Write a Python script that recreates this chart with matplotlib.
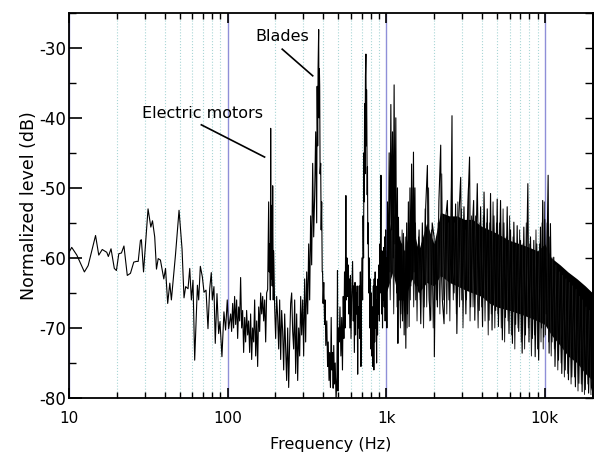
import matplotlib
matplotlib.use("Agg")
import matplotlib.pyplot as plt
import numpy as np
from matplotlib.ticker import FixedLocator, NullFormatter, NullLocator

plt.rcParams["axes.unicode_minus"] = False

# ---- data ----
# 10 Hz .. 105 Hz, single readable trace
f_low = [10, 10.4, 11.2, 12.5, 13.2, 14.7, 15.4, 16.2, 17.3, 17.7, 18.4, 19.3, 19.9,
         20.6, 21.4, 22.2, 23.3, 24.4, 25.6, 26.6, 27.3, 28.2, 28.6, 29.5, 31.5, 32.8,
         33.6, 34.7, 35.6, 36.5, 37.7, 39.6, 40.6, 41.9, 43.2, 44.2, 46.9, 49.4, 51.6,
         53.1, 54.4, 56.3, 57.7, 59.1, 60.5, 62.0, 64.5, 65.7, 67.3, 69.3, 71.0, 73.1,
         75.2, 77.1, 78.9, 80.1, 82.0, 83.6, 85.7, 87.8, 89.5, 92.1, 94.8, 97.1, 99.5,
         101.5, 103.0]
db_low = [-59.2, -58.5, -59.6, -62.0, -61.1, -56.8, -59.6, -58.8, -59.2, -59.8, -58.7, -61.5, -61.8,
          -59.4, -59.3, -58.3, -62.5, -62.2, -60.6, -60.5, -60.5, -57.5, -57.4, -62.0, -53.0, -55.6,
          -54.7, -57.0, -61.6, -60.1, -60.3, -63.0, -61.5, -66.5, -63.6, -66.0, -59.6, -53.2, -58.7,
          -65.7, -64.1, -64.4, -61.5, -66.0, -63.2, -74.6, -63.9, -66.0, -61.2, -62.7, -64.9, -64.6,
          -70.1, -64.4, -62.1, -66.0, -64.1, -72.2, -65.1, -70.8, -69.1, -74.1, -67.7, -70.3, -66.0,
          -70.1, -69.1]

# 105 Hz .. 1 kHz (motor line, blade harmonics)
f_mid = [104.5, 106.0, 107.6, 109.1, 110.7, 112.4, 114.0, 115.7, 117.4, 119.1, 120.8, 122.6,
         124.4, 126.2, 128.1, 129.9, 131.8, 133.8, 135.7, 137.7, 139.7, 141.8, 143.8, 146.0,
         148.1, 150.3, 152.5, 154.7, 157.0, 159.3, 161.6, 164.0, 166.4, 168.8, 171.3, 173.8,
         176.3, 178.9, 181.5, 183.0, 184.2, 186.0, 186.9, 188.0, 189.6, 191.0, 192.4, 194.0,
         195.2, 198.0, 200.9, 203.9, 206.9, 209.9, 212.9, 216.1, 219.2, 222.4, 225.7, 229.0,
         232.3, 235.7, 239.2, 242.7, 246.2, 249.8, 253.5, 257.2, 260.9, 264.8, 268.6, 272.6,
         276.6, 280.6, 284.7, 288.9, 293.1, 297.4, 301.7, 306.1, 310.6, 315.2, 319.8, 324.5,
         329.2, 334.0, 338.9, 343.9, 348.9, 354.0, 359.2, 364.5, 367, 369.8, 372, 375.2,
         377, 379, 380.7, 383, 386.3, 389, 391.9, 395, 397, 400, 404, 409, 412, 416, 422,
         427, 431, 436, 440, 445, 450, 454, 459, 463, 467, 472, 477, 483, 489, 493, 496,
         500, 506, 511, 518, 524, 530, 536, 541, 546, 551, 557, 561, 566, 570, 575, 580,
         585, 590, 595, 600, 607, 614, 620, 625, 630, 636, 641, 645, 650, 656, 661, 666,
         671, 676, 682, 687, 693, 698, 703, 710, 715, 720, 724, 727, 731, 735, 740, 745,
         749, 752, 755, 759, 762, 766, 770, 775, 782, 788, 794, 800, 806, 812, 818, 824,
         830, 836, 840, 846, 852, 858, 864, 870, 876, 882, 888, 894, 900, 906, 912, 918,
         924, 927, 930, 936, 942, 948, 954, 960, 966, 972, 978, 985, 992, 998]
db_mid = [-68, -70.5, -66.5, -70, -65.5, -69.5, -66, -71.5, -67, -69, -62.8, -70,
          -67.5, -73.5, -68.5, -72, -67.5, -71, -69, -73.5, -68, -74.5, -70, -72,
          -66, -74, -69, -75.5, -67, -70.5, -65, -68, -65.5, -69, -66, -72,
          -65, -64.5, -52, -62, -58, -66, -41.5, -63, -52.5, -64, -49.7, -66,
          -59, -67, -71.5, -65.5, -68.5, -73, -66, -74.5, -67.5, -70.5, -76, -68,
          -73, -77.5, -70, -78.5, -72, -66.5, -65, -70.5, -73, -66, -76.5, -68,
          -77.5, -70, -74, -65.5, -71, -66, -74, -63, -72, -62, -68, -58,
          -66, -54, -61, -46.5, -57, -51, -42, -55, -35.5, -44, -32.8, -27.4,
          -40, -33, -35.4, -48, -46.5, -56, -52, -62, -62, -66.5, -63.5, -69.5, -66, -72.5, -69,
          -75.5, -72, -77.5, -73.5, -78.5, -68.5, -76, -73.5, -78.6, -72.5, -78, -75, -80.3, -77, -61.8, -79,
          -70, -72, -67, -74, -68.5, -76, -65.5, -71.5, -62, -70, -51.1, -66, -60, -65.5, -61, -68,
          -63, -70, -62.5, -71.5, -65, -60.5, -69, -64, -73.5, -63.5, -71, -65, -68, -64, -76.6, -67,
          -70, -64, -71.5, -62, -75.5, -66, -60, -66, -54, -60, -45, -52, -38, -48, -34, -30.9,
          -44, -36, -40.7, -51, -47, -58, -55, -65, -60, -70, -63, -73, -65, -74, -67, -75.5,
          -64, -76, -63, -72, -62, -70, -66, -75, -64, -71, -63, -68, -61, -69, -58, -65,
          -52, -48.2, -60, -68, -59, -70, -61, -66, -58.5, -67, -57, -69, -56, -65]

# 1 kHz .. 20 kHz, tallest spikes (alternating tops and bottoms)
f_high = [1003, 1010, 1019, 1030, 1044, 1055, 1070, 1082, 1096, 1108, 1122, 1135, 1150, 1163,
          1178, 1185, 1195, 1207, 1220, 1236, 1250, 1267, 1283, 1298, 1315, 1330, 1346, 1362,
          1380, 1395, 1412, 1429, 1446, 1464, 1486, 1500, 1518, 1537, 1555, 1574, 1612, 1652,
          1690, 1734, 1775, 1819, 1840, 1865, 1909, 1950, 2004, 2012, 2050, 2103, 2150, 2207,
          2230, 2260, 2316, 2380, 2431, 2490, 2551, 2600, 2620, 2677, 2740, 2790, 2860, 2949,
          3000, 3094, 3180, 3247, 3355, 3408, 3490, 3560, 3620, 3700, 3753, 3860, 3939, 4050,
          4140, 4250, 4338, 4450, 4550, 4650, 4777, 4900, 5013, 5100, 5261, 5400, 5521, 5650,
          5794, 5950, 6081, 6250, 6382, 6550, 6698, 6850, 7030, 7200, 7377, 7550, 7820, 7950,
          8126, 8350, 8528, 8700, 8900, 9150, 9393, 9550, 9700, 9856, 10000, 10200, 10500,
          10650, 10855, 11100, 11394, 11600, 11956, 12200, 12547, 12800, 13170, 13450, 13822,
          14100, 14502, 14800, 15220, 15600, 15973, 16400, 16761, 17200, 17592, 18000, 18463,
          18900, 19377, 19700, 20000]
db_high = [-60, -70, -52, -64, -45, -62, -38.1, -56, -42, -60, -35.3, -58, -40, -65,
           -50, -72.2, -54.2, -66, -57, -68, -58, -69, -56.5, -71, -59, -72.9, -55, -68,
           -52, -69.8, -50, -64, -46.6, -63, -44.9, -62, -50, -66, -58.4, -64, -56, -69.4,
           -55, -67, -52.7, -46.8, -60, -66, -68.9, -55, -57, -74.1, -58, -67, -51.8, -43.9,
           -62, -66, -69.4, -54, -51.8, -66, -60, -39.7, -62, -65, -52.3, -70.8, -55, -48.5,
           -66, -52.7, -68, -55, -45.6, -67, -56, -51.8, -68.9, -56, -49.4, -67.5, -52.7, -69.8,
           -50.6, -66, -53, -68.9, -50.8, -70.3, -54, -67.5, -51.6, -69.8, -51.8, -71.7, -55, -68.5,
           -52.7, -70.8, -56, -72.2, -54.9, -69.5, -55.4, -70.5, -57.5, -73.6, -55.6, -71, -49.4, -72,
           -57, -71.5, -57.5, -74.1, -58, -74.6, -55.6, -70, -51.8, -71.3, -54.5, -68, -48.2,
           -73.6, -55.1, -72, -59.9, -75.5, -61, -74.6, -61.3, -76.5, -62, -76, -62.7,
           -77.4, -63.2, -77, -63.7, -78.4, -64.1, -77.9, -64.9, -79.1, -65.6, -78.8, -66.5,
           -79.3, -67, -78.5, -79]

# 1 kHz .. 20 kHz, the denser fringe just outside the solid core
f_fringe = [1040, 1060, 1090, 1115, 1140, 1170, 1200, 1230, 1260, 1290, 1320, 1355, 1390, 1420,
            1455, 1490, 1530, 1565, 1600, 1640, 1680, 1720, 1760, 1800, 1850, 1885, 1930, 1980,
            2030, 2075, 2125, 2180, 2240, 2290, 2350, 2410, 2460, 2520, 2580, 2650, 2710, 2770,
            2830, 2900, 2980, 3050, 3130, 3210, 3300, 3380, 3450, 3530, 3660, 3800, 3900, 4000,
            4100, 4200, 4300, 4400, 4500, 4600, 4720, 4840, 4960, 5060, 5180, 5320, 5460, 5580,
            5720, 5870, 6000, 6160, 6310, 6470, 6620, 6780, 6940, 7110, 7290, 7460, 7650, 7880,
            8040, 8240, 8440, 8610, 8800, 9000, 9270, 9470, 9620, 9780, 9930, 10100, 10350, 10580,
            10750, 10980, 11250, 11500, 11780, 12080, 12370, 12680, 12980, 13300, 13640, 13960,
            14300, 14650, 15000, 15400, 15800, 16200, 16580, 17000, 17400, 17800, 18250, 18700,
            19150, 19550]
db_fringe = [-55, -66, -50, -68, -48, -67, -58, -70, -56, -66, -57, -70, -55, -66,
             -50, -67, -55, -69, -57, -66, -58, -70, -53, -67, -50, -69, -56, -70,
             -58, -66, -55, -68, -48, -66, -54, -68, -55, -69, -50, -66, -55, -68,
             -52, -67, -53, -70, -56, -66, -50, -69, -54, -67, -54, -70, -55, -67,
             -54, -69, -55, -71, -55, -68, -52, -70, -55, -68, -55, -70, -53, -72,
             -57, -69, -54, -71, -57, -73, -58, -70, -56, -72, -58, -73, -55, -70,
             -58, -74, -59, -71, -56, -73, -58, -72, -55, -73, -52, -71, -55, -72,
             -57, -74, -60, -73, -61, -76, -62, -75, -62.5, -77, -63, -76.5,
             -63.5, -78, -64, -77, -64.5, -79, -65.5, -78, -66, -79.5, -67, -78,
             -67.5, -79.5]

# solid core of the broadband noise
f_band = [1000, 1100, 1200, 1300, 1450, 1600, 1800, 2000, 2200, 2500, 2800, 3100, 3500,
          4000, 4500, 5000, 6000, 7000, 8000, 9000, 10000, 11000, 12500, 14000, 16000,
          18000, 20000]
band_hi = [-59, -53, -57, -59, -55, -59, -55, -58, -53.5, -54, -54, -54.5, -54.5,
           -55.5, -56, -56.5, -57.5, -58, -58.5, -59, -58, -60, -61, -62, -63,
           -64, -65]
band_lo = [-65, -62, -66, -66, -63, -65, -63.5, -64, -62.5, -63.5, -64, -64.5, -65,
           -65.5, -66.5, -67, -67.5, -68, -68.5, -69, -69.5, -71, -72.5, -74, -75,
           -76.5, -77.5]

xticks = [10, 100, 1000, 10000]
xticklabels = ["10", "100", "1k", "10k"]

# ---- figure ----
fig = plt.figure(figsize=(5.94, 4.57), dpi=100)
ax = fig.add_axes([0.1162, 0.1291, 0.8813, 0.8430])

ax.set_xscale("log")
ax.set_xlim(10, 20000)
ax.set_ylim(-80, -25)

ax.fill_between(f_band, band_lo, band_hi, color="black", lw=0, zorder=2)
ax.plot(f_fringe, db_fringe, color="#222222", lw=0.7, zorder=2.5)
ax.plot(f_low + f_mid + f_high, db_low + db_mid + db_high, color="black", lw=0.8, zorder=3)

# grid
ax.set_axisbelow(True)
ax.grid(which="major", axis="x", color="#8f8fd8", lw=1.0, ls="-")
ax.grid(which="minor", axis="x", color="#a9d6d6", lw=0.8, ls=":")
ax.grid(which="major", axis="y", visible=False)

ax.xaxis.set_major_locator(FixedLocator(xticks))
ax.set_xticklabels(xticklabels)
minors = [m * d for d in (10, 100, 1000, 10000) for m in range(2, 10) if m * d <= 20000]
ax.xaxis.set_minor_locator(FixedLocator(minors))
ax.xaxis.set_minor_formatter(NullFormatter())

ax.set_yticks(range(-80, -24, 10))
ax.yaxis.set_minor_locator(FixedLocator(list(range(-75, -24, 10))))

ax.tick_params(axis="x", which="major", direction="in", top=True, length=7, width=1.2,
               labelsize=11, pad=9)
ax.tick_params(axis="x", which="minor", direction="in", top=True, length=4, width=1.0)
ax.tick_params(axis="y", which="major", direction="in", right=False, length=9, width=1.2,
               labelsize=12, pad=2)
ax.tick_params(axis="y", which="minor", direction="in", right=False, length=5, width=1.0)

sec = ax.secondary_yaxis("right")
sec.set_yticks(range(-80, -24, 5))
sec.yaxis.set_minor_locator(NullLocator())
sec.tick_params(direction="in", length=6, width=1.0, labelright=False)
sec.spines["right"].set_linewidth(1.3)

for s in ax.spines.values():
    s.set_linewidth(1.3)

ax.set_xlabel("Frequency (Hz)", fontsize=11.5, labelpad=8)
ax.set_ylabel("Normalized level (dB)", fontsize=12.5, labelpad=1)

# annotations
ax.text(69.1, -39.4, "Electric motors", fontsize=11.5, ha="center", va="center")
ax.plot([68.3, 171], [-41.0, -45.6], color="black", lw=1.2)
ax.text(220, -28.4, "Blades", fontsize=11.5, ha="center", va="center")
ax.plot([221, 344], [-30.2, -34.0], color="black", lw=1.2)

fig.savefig("out.png", dpi=100)
